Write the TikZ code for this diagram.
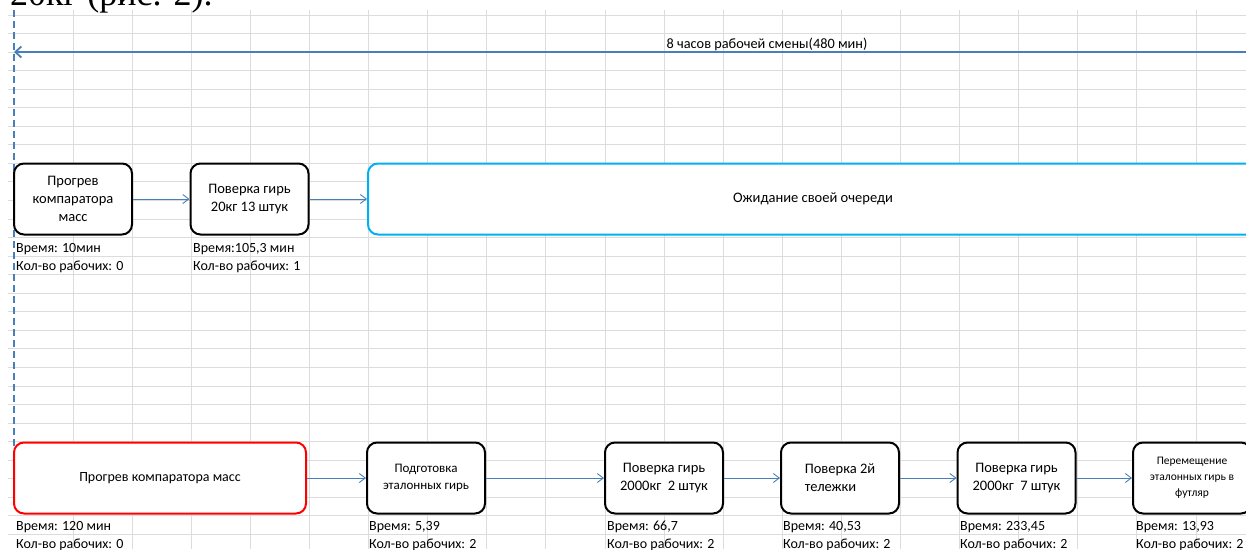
\documentclass[tikz,border=0pt]{standalone}
\usepackage{fontspec}
\setmainfont{Carlito}
\newfontfamily\capserif{Liberation Serif}
\usetikzlibrary{arrows.meta}

\definecolor{lineblue}{HTML}{4A7EBB}
\definecolor{waitblue}{HTML}{00B0F0}
\definecolor{warmred}{HTML}{FF0000}
\definecolor{gridgray}{HTML}{DCDCDC}

\begin{document}
\begin{tikzpicture}[x=1pt,y=-1pt,
    every node/.style={font=\fontsize{14}{17}\selectfont, inner sep=0pt},
    procbox/.style={draw=black, line width=2pt, rounded corners=10pt, fill=white,
        align=center, minimum width=118pt, minimum height=71pt,
        font=\fontsize{14.5}{18}\selectfont},
    smalltext/.style={font=\fontsize{13}{17}\selectfont},
    tinytext/.style={font=\fontsize{11.5}{16}\selectfont},
    info/.style={anchor=base west},
    flow/.style={draw=lineblue, line width=0.9pt, -{Straight Barb[length=6pt,width=9pt]}}]
        \useasboundingbox (0,0) rectangle (1246,549);
        % sheet grid
        \foreach \k in {1,...,20}
            \draw [gridgray, line width=1pt] (14+59.1*\k,10) -- (14+59.1*\k,549);
        \foreach \k in {0,...,28}
            \draw [gridgray, line width=1pt] (8,15+18.55*\k) -- (1246,15+18.55*\k);
        % text above the sheet
        \node [anchor=base west, font=\capserif\fontsize{36}{42}\selectfont] (caption) at (10,5) {20кг (рис. 2).};
        % shift span
        \coordinate (start) at (14,10);
        \coordinate (stop) at (14,447);
        \coordinate (spanl) at (14,52);
        \coordinate (spanr) at (1246,52);
        \draw [lineblue, line width=2pt, dash pattern=on 7pt off 4pt] (start) -- (stop);
        \draw [lineblue, line width=1.8pt, {Straight Barb[length=6pt,width=11pt]}-] (spanl) -- (spanr);
        \node [anchor=base, font=\fontsize{14.3}{17}\selectfont] (span) at (767,48) {8 часов рабочей смены(480 мин)};
        % upper line
        \node [procbox] (warm) at (73,199) {Прогрев\\компаратора\\масс};
        \node [procbox] (check) at (249.5,199) {Поверка гирь\\20кг 13 штук};
        \node [procbox, draw=waitblue, minimum width=890pt] (wait) at (813,199) {Ожидание своей очереди};
        \draw [flow] (warm) -- (check);
        \draw [flow] (check) -- (wait);
        \node [info] (warmt) at (16,252.5) {Время: 10мин};
        \node [info] (warmw) at (16,270) {Кол-во рабочих: 0};
        \node [info] (checkt) at (193,252.5) {Время:105,3 мин};
        \node [info] (checkw) at (193,270) {Кол-во рабочих: 1};
        % lower line
        \node [procbox, draw=warmred, minimum width=292pt, font=\fontsize{14}{18}\selectfont] (heat) at (160,478) {Прогрев компаратора масс};
        \node [procbox, smalltext] (prep) at (426,478) {Подготовка\\эталонных гирь};
        \node [procbox] (twok) at (664,478) {Поверка гирь\\2000кг\ \ 2 штук};
        \node [procbox, align=left] (cart) at (840,478) {Поверка 2й\\тележки};
        \node [procbox] (seven) at (1016.5,478) {Поверка гирь\\2000кг\ \ 7 штук};
        \node [procbox, tinytext] (pack) at (1192,478) {Перемещение\\эталонных гирь в\\футляр};
        \draw [flow] (heat) -- (prep);
        \draw [flow] (prep) -- (twok);
        \draw [flow] (twok) -- (cart);
        \draw [flow] (cart) -- (seven);
        \draw [flow] (seven) -- (pack);
        \node [info] (heatt) at (16,530.5) {Время: 120 мин};
        \node [info] (heatw) at (16,548) {Кол-во рабочих: 0};
        \node [info] (prept) at (369,530.5) {Время: 5,39};
        \node [info] (prepw) at (369,548) {Кол-во рабочих: 2};
        \node [info] (twokt) at (607,530.5) {Время: 66,7};
        \node [info] (twokw) at (607,548) {Кол-во рабочих: 2};
        \node [info] (cartt) at (783,530.5) {Время: 40,53};
        \node [info] (cartw) at (783,548) {Кол-во рабочих: 2};
        \node [info] (sevent) at (960,530.5) {Время: 233,45};
        \node [info] (sevenw) at (960,548) {Кол-во рабочих: 2};
        \node [info] (packt) at (1136,530.5) {Время: 13,93};
        \node [info] (packw) at (1136,548) {Кол-во рабочих: 2};
        \end{tikzpicture}
\end{document}
